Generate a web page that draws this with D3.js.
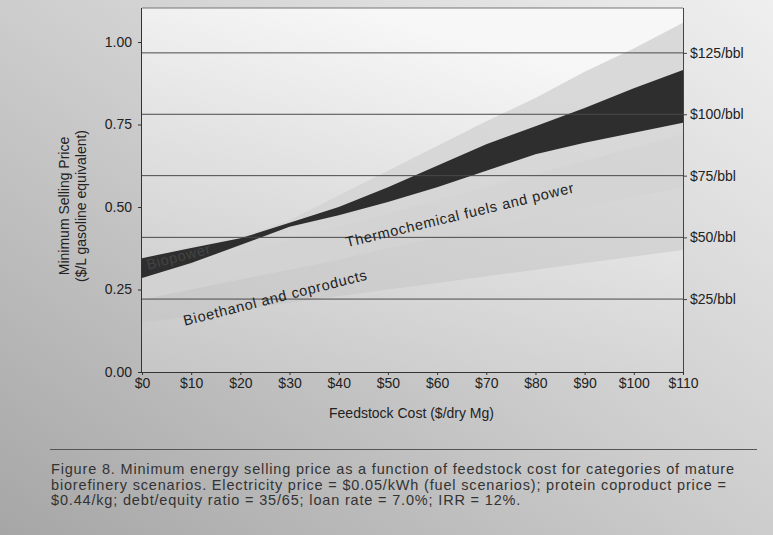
<!DOCTYPE html>
<html>
<head>
<meta charset="utf-8">
<script src="https://cdn.jsdelivr.net/npm/d3@7"></script>
<style>
  body { margin: 0; background: #fff; }
  svg { display: block; font-family: "Liberation Sans", Arial, Helvetica, sans-serif; }
</style>
</head>
<body>
<svg id="chart" width="773" height="535"></svg>
<script>
// Feedstock cost ($/dry Mg) at which each band edge is given
const feedstockCost = [0, 10, 20, 30, 40, 50, 60, 70, 80, 90, 100, 110];

// Minimum selling price ($/L gasoline equivalent), band edges per category
const ethanolLow  = [0.15, 0.17, 0.19, 0.21, 0.23, 0.25, 0.27, 0.29, 0.31, 0.33, 0.35, 0.37];
const ethanolHigh = [0.30, 0.33, 0.36, 0.40, 0.44, 0.48, 0.52, 0.56, 0.60, 0.64, 0.68, 0.72];
const thermoLow   = [0.22, 0.25, 0.28, 0.31, 0.34, 0.375, 0.405, 0.435, 0.47, 0.50, 0.53, 0.56];
const thermoHigh  = [0.35, 0.38, 0.41, 0.46, 0.535, 0.61, 0.685, 0.76, 0.83, 0.91, 0.98, 1.058];
const powerLow    = [0.285, 0.33, 0.385, 0.44, 0.475, 0.515, 0.56, 0.61, 0.66, 0.695, 0.725, 0.755];
const powerHigh   = [0.345, 0.376, 0.405, 0.452, 0.50, 0.56, 0.625, 0.69, 0.745, 0.80, 0.86, 0.915];

// Axis ticks
const xTicks = [0, 10, 20, 30, 40, 50, 60, 70, 80, 90, 100, 110];
const yTicks = [0, 0.25, 0.5, 0.75, 1.0];

// Crude oil price equivalents drawn as reference lines
const crudeLabels = ["$25/bbl", "$50/bbl", "$75/bbl", "$100/bbl", "$125/bbl"];
const crudeEquivalent = [0.221, 0.408, 0.595, 0.781, 0.967];

const captionLines = [
  "Figure 8. Minimum energy selling price as a function of feedstock cost for categories of mature",
  "biorefinery scenarios. Electricity price = $0.05/kWh (fuel scenarios); protein coproduct price =",
  "$0.44/kg; debt/equity ratio = 35/65; loan rate = 7.0%; IRR = 12%."
];

const svg = d3.select("#chart");
const W = 773, H = 535;
const pLeft = 142, pRight = 683, pTop = 8, pBottom = 372;

const x = d3.scaleLinear().domain([0, 110]).range([pLeft, pRight]);
const y = d3.scaleLinear().domain([0, 1.1]).range([pBottom, pBottom - 1.1 * 330]);

const defs = svg.append("defs");
const pageGrad = defs.append("linearGradient").attr("id", "pageGrad")
  .attr("x1", "1").attr("y1", "0").attr("x2", "0").attr("y2", "1");
pageGrad.append("stop").attr("offset", "0").attr("stop-color", "#efefef");
pageGrad.append("stop").attr("offset", "0.5").attr("stop-color", "#cdcdcd");
pageGrad.append("stop").attr("offset", "1").attr("stop-color", "#a6a6a6");

const plotGrad = defs.append("linearGradient").attr("id", "plotGrad")
  .attr("x1", "0.4").attr("y1", "0").attr("x2", "0").attr("y2", "1");
plotGrad.append("stop").attr("offset", "0").attr("stop-color", "#f7f7f7");
plotGrad.append("stop").attr("offset", "0.45").attr("stop-color", "#e0e0e0");
plotGrad.append("stop").attr("offset", "1").attr("stop-color", "#c6c6c6");

// Page
svg.append("rect").attr("width", W).attr("height", H).attr("fill", "url(#pageGrad)");

// Plot background
svg.append("rect")
  .attr("x", pLeft).attr("y", pTop)
  .attr("width", pRight - pLeft).attr("height", pBottom - pTop)
  .attr("fill", "url(#plotGrad)");

const area = (lo, hi) => d3.area()
  .x((d, i) => x(feedstockCost[i]))
  .y0((d, i) => y(lo[i]))
  .y1((d, i) => y(hi[i]))(feedstockCost);

const plot = svg.append("g");
plot.append("path").attr("d", area(ethanolLow, ethanolHigh))
  .attr("fill", "#c4c4c4").attr("opacity", 0.5);
plot.append("path").attr("d", area(thermoLow, thermoHigh))
  .attr("fill", "#d4d4d4").attr("opacity", 0.85);
plot.append("path").attr("d", area(powerLow, powerHigh))
  .attr("fill", "#2e2e2e");

// Crude oil equivalent reference lines
plot.selectAll("line.crude").data(crudeEquivalent).join("line")
  .attr("class", "crude")
  .attr("x1", pLeft).attr("x2", pRight)
  .attr("y1", d => y(d)).attr("y2", d => y(d))
  .attr("stroke", "#4a4a4a").attr("stroke-width", 1);

// Frame top line
svg.append("line").attr("x1", pLeft).attr("x2", pRight).attr("y1", pTop).attr("y2", pTop)
  .attr("stroke", "#777").attr("stroke-width", 1);

// Band labels
const bandLabel = (txt, px, py, ang, fill) => svg.append("text")
  .attr("transform", `translate(${px},${py}) rotate(${ang})`)
  .attr("font-size", 14.5).attr("letter-spacing", 0.7).attr("fill", fill).text(txt);
bandLabel("Thermochemical fuels and power", x(41.7), y(0.378), -13.6, "#222");
bandLabel("Bioethanol and coproducts", x(8.7), y(0.14), -14.2, "#222");
bandLabel("Biopower", x(1.2), y(0.31), -14.5, "#444");

// Left axis
const yAxis = svg.append("g").attr("transform", `translate(${pLeft},0)`)
  .call(d3.axisLeft(y).tickValues(yTicks).tickFormat(d3.format(".2f")).tickSize(4).tickPadding(6));
yAxis.select(".domain").attr("d", `M-0.5,${pTop}V${pBottom}`).attr("stroke", "#333");
yAxis.selectAll(".tick line").attr("stroke", "#333");
yAxis.selectAll("text").attr("font-size", 14).attr("fill", "#222").attr("font-family", null);

// Right axis with crude oil labels
const rAxis = svg.append("g").attr("transform", `translate(${pRight},0)`)
  .call(d3.axisRight(y).tickValues(crudeEquivalent)
    .tickFormat((d, i) => crudeLabels[i]).tickSize(4).tickPadding(3));
rAxis.select(".domain").attr("d", `M0.5,${pTop}V${pBottom}`).attr("stroke", "#444");
rAxis.selectAll(".tick line").attr("stroke", "#444");
rAxis.selectAll("text").attr("font-size", 14).attr("fill", "#222").attr("font-family", null);

// Bottom axis
const xAxis = svg.append("g").attr("transform", `translate(0,${pBottom})`)
  .call(d3.axisBottom(x).tickValues(xTicks).tickFormat(d => "$" + d).tickSize(3).tickPadding(3));
xAxis.select(".domain").attr("d", `M${pLeft},0.5H${pRight}`).attr("stroke", "#333");
xAxis.selectAll(".tick line").attr("stroke", "#333");
xAxis.selectAll("text").attr("font-size", 14).attr("fill", "#222").attr("font-family", null);

// Axis titles
svg.append("text").attr("x", (pLeft + pRight) / 2 - 1).attr("y", 418)
  .attr("text-anchor", "middle").attr("font-size", 14).attr("fill", "#222")
  .text("Feedstock Cost ($/dry Mg)");
const yt = svg.append("text").attr("transform", "translate(69,206) rotate(-90)")
  .attr("text-anchor", "middle").attr("font-size", 14).attr("fill", "#222");
yt.append("tspan").attr("x", 0).attr("y", 0).text("Minimum Selling Price");
yt.append("tspan").attr("x", 0).attr("y", 17).text("($/L gasoline equivalent)");

// Caption
svg.append("line").attr("x1", 50).attr("x2", 757).attr("y1", 449.5).attr("y2", 449.5)
  .attr("stroke", "#555").attr("stroke-width", 1);
const cap = svg.append("g");
const capTexts = cap.selectAll("text").data(captionLines).join("text")
  .attr("x", 51).attr("y", (d, i) => 474 + i * 15.5)
  .attr("font-size", 14.5).attr("fill", "#333").text(d => d);
// spread the caption so its first line spans the caption width
const firstLen = capTexts.node().getComputedTextLength();
const spacing = (683 - firstLen) / (captionLines[0].length - 1);
capTexts.attr("letter-spacing", spacing.toFixed(3));
</script>
</body>
</html>
